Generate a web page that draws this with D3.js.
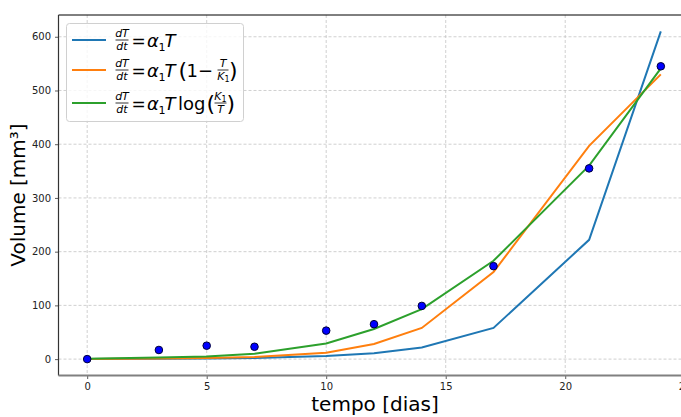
<!DOCTYPE html>
<meta charset="utf-8">
<style>
body { margin: 0; background: #fff; }
text { font-family: "DejaVu Sans", sans-serif; }
</style>
<body>
<script src="https://d3js.org/d3.v7.min.js"></script>
<script>

// measured days
var days = [0, 3, 5, 7, 10, 12, 14, 17, 21, 24];
// measured tumour volume
var volume = [0, 17, 25, 23, 53, 65, 99, 173, 355, 545];
// model fits
var exponencial = [0.2, 0.5, 1, 2, 5.6, 11, 21.5, 58, 222, 610];
var logistico = [0.3, 1, 2, 4, 12, 28, 58, 162, 397, 530];
var gompertz = [0.5, 3, 5, 10, 29, 56, 93, 183, 360, 541];

var xTicks = [0, 5, 10, 15, 20, 25];
var yTicks = [0, 100, 200, 300, 400, 500, 600];

var W = 681, H = 417;
var mLeft = 58.5, mRight = 689.5, mTop = 15, mBottom = 375.5;

var svg = d3.select("body").append("svg")
    .attr("width", W).attr("height", H);

var x = d3.scaleLinear().domain([-1.2, 25.2]).range([mLeft, mRight]);
var y = d3.scaleLinear().domain([-30.5, 640.5]).range([mBottom, mTop]);

// grid
svg.append("g").selectAll("line").data(xTicks).enter().append("line")
    .attr("x1", d => x(d)).attr("x2", d => x(d))
    .attr("y1", mTop).attr("y2", mBottom)
    .attr("stroke", "#c4c4c4").attr("stroke-width", 0.8)
    .attr("stroke-dasharray", "3,2");
svg.append("g").selectAll("line").data(yTicks).enter().append("line")
    .attr("x1", mLeft).attr("x2", mRight)
    .attr("y1", d => y(d)).attr("y2", d => y(d))
    .attr("stroke", "#c4c4c4").attr("stroke-width", 0.8)
    .attr("stroke-dasharray", "3,2");

// axes
var xAxis = svg.append("g")
    .attr("transform", "translate(0," + mBottom + ")")
    .call(d3.axisBottom(x).tickValues(xTicks).tickSize(3.5).tickPadding(4).tickSizeOuter(0));
var yAxis = svg.append("g")
    .attr("transform", "translate(" + mLeft + ",0)")
    .call(d3.axisLeft(y).tickValues(yTicks).tickSize(3.5).tickPadding(4).tickSizeOuter(0));
[xAxis, yAxis].forEach(function(a) {
  a.select(".domain").remove();
  a.selectAll("text").attr("font-family", "DejaVu Sans").attr("font-size", 10).attr("fill", "#222");
  a.selectAll(".tick line").attr("stroke", "#333").attr("stroke-width", 0.8);
});

// spines
svg.append("line").attr("x1", mLeft).attr("x2", mRight).attr("y1", mTop).attr("y2", mTop)
    .attr("stroke", "#000").attr("stroke-width", 1);
svg.append("line").attr("x1", mLeft).attr("x2", mLeft).attr("y1", mTop).attr("y2", mBottom)
    .attr("stroke", "#333").attr("stroke-width", 1.2);
svg.append("line").attr("x1", mLeft).attr("x2", mRight).attr("y1", mBottom).attr("y2", mBottom)
    .attr("stroke", "#808080").attr("stroke-width", 2);

// model lines
var line = d3.line().x((d, i) => x(days[i])).y(d => y(d));
var series = [
  {vals: exponencial, color: "#1f77b4"},
  {vals: logistico, color: "#ff7f0e"},
  {vals: gompertz, color: "#2ca02c"}
];
svg.append("g").selectAll("path").data(series).enter().append("path")
    .attr("d", d => line(d.vals))
    .attr("fill", "none")
    .attr("stroke", d => d.color)
    .attr("stroke-width", 2);

// data points
svg.append("g").selectAll("circle").data(volume).enter().append("circle")
    .attr("cx", (d, i) => x(days[i]))
    .attr("cy", d => y(d))
    .attr("r", 3.8)
    .attr("fill", "#0000ff")
    .attr("stroke", "#00003a")
    .attr("stroke-width", 1);

// axis labels
svg.append("text").attr("x", 375).attr("y", 411)
    .attr("text-anchor", "middle").attr("font-size", 20).attr("fill", "#000")
    .text("tempo [dias]");
svg.append("text").attr("transform", "translate(25,195) rotate(-90)")
    .attr("text-anchor", "middle").attr("font-size", 20).attr("fill", "#000")
    .text("Volume [mm³]");

// legend
var lg = svg.append("g");
lg.append("rect").attr("x", 66.5).attr("y", 23.5).attr("width", 177).attr("height", 98)
    .attr("rx", 3).attr("fill", "#fff").attr("fill-opacity", 0.8)
    .attr("stroke", "#d0d0d0").attr("stroke-width", 1);

var rows = [40, 70, 103];
series.forEach(function(s, i) {
  lg.append("line").attr("x1", 72).attr("x2", 106)
      .attr("y1", rows[i]).attr("y2", rows[i])
      .attr("stroke", s.color).attr("stroke-width", 2);
});

// small text piece
function piece(px, py, str, size, italic, anchor) {
  return lg.append("text").attr("x", px).attr("y", py)
      .attr("font-size", size)
      .attr("font-style", italic ? "italic" : "normal")
      .attr("text-anchor", anchor || "start")
      .attr("fill", "#000")
      .text(str);
}
function bar(cx, cy, w) {
  lg.append("line").attr("x1", cx - w / 2).attr("x2", cx + w / 2)
      .attr("y1", cy).attr("y2", cy).attr("stroke", "#000").attr("stroke-width", 0.8);
}
function k1(cx, py) {
  var t = lg.append("text").attr("x", cx).attr("y", py).attr("text-anchor", "middle")
      .attr("font-size", 11).attr("fill", "#000");
  t.append("tspan").attr("font-style", "italic").text("K");
  t.append("tspan").attr("font-size", 8).attr("dy", 2).text("1");
}
function lhs(cy) {
  piece(122, cy - 3, "dT", 11, true, "middle");
  bar(122, cy, 13);
  piece(122, cy + 9.5, "dt", 11, true, "middle");
  piece(131.5, cy + 6.5, "=", 17, false);
  piece(147, cy + 6.5, "α", 18, true);
  piece(158.5, cy + 10.5, "1", 11, false);
  piece(164.5, cy + 6.5, "T", 18, true);
}

// row 1
lhs(rows[0]);

// row 2
lhs(rows[1]);
piece(178.5, rows[1] + 8, "(", 22, false);
piece(186.5, rows[1] + 6.5, "1", 18, false);
piece(198, rows[1] + 6.5, "−", 18, false);
piece(223, rows[1] - 3, "T", 11, true, "middle");
bar(223, rows[1], 11);
k1(223.5, rows[1] + 9.5);
piece(229, rows[1] + 8, ")", 22, false);

// row 3
lhs(rows[2]);
piece(178, rows[2] + 6.5, "log", 18, false);
piece(206.5, rows[2] + 8, "(", 22, false);
k1(220.5, rows[2] - 3);
bar(220.5, rows[2], 12);
piece(220.5, rows[2] + 9.5, "T", 11, true, "middle");
piece(226.5, rows[2] + 8, ")", 22, false);

</script>
</body>
</html>
